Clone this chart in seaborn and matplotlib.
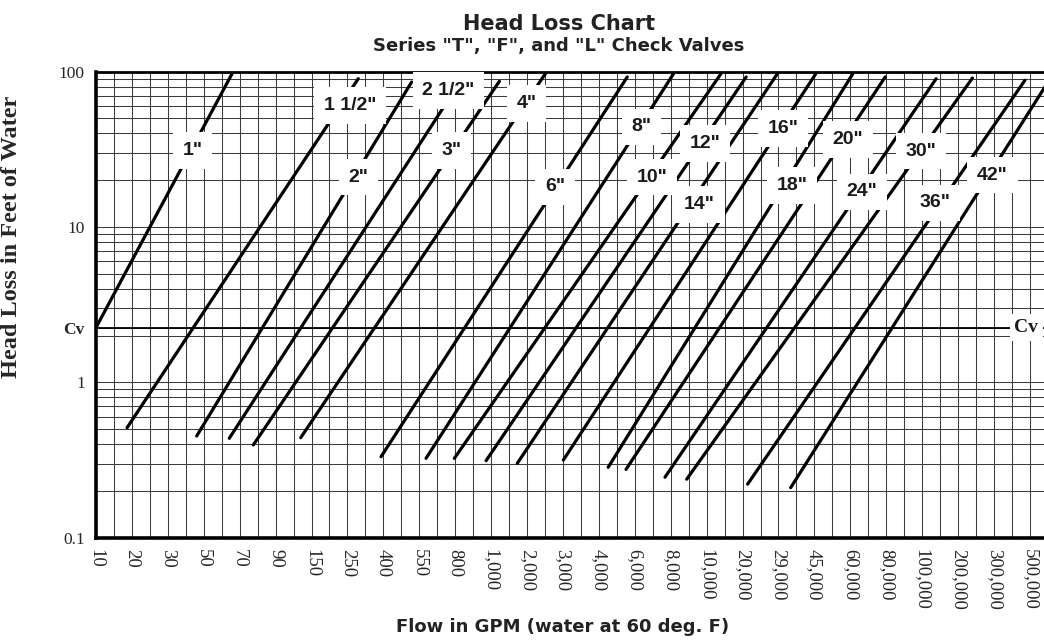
import numpy as np
import pandas as pd
import matplotlib
matplotlib.use("Agg")
import matplotlib.pyplot as plt
from matplotlib.ticker import FixedLocator, NullFormatter
import seaborn as sns

# Flow axis tick values (GPM) - evenly spaced on the chart
flow_ticks = [10, 20, 30, 50, 70, 90, 150, 250, 400, 550, 800, 1000, 2000,
              3000, 4000, 6000, 8000, 10000, 20000, 29000, 45000, 60000,
              80000, 100000, 200000, 300000, 500000]

# Valve sizes and the end points of each head-loss line
valve_sizes = ['1"', '1 1/2"', '2"', '2 1/2"', '3"', '4"', '6"', '8"', '10"',
               '12"', '14"', '16"', '18"', '20"', '24"', '30"', '36"', '42"']
flow_low = [10, 18.2, 45.2, 63.5, 77, 128.6, 388, 590, 793, 969, 1657, 3009,
            4445, 5432, 7640, 8835, 21070, 33670]
head_low = [2.25, 0.510, 0.451, 0.436, 0.395, 0.440, 0.332, 0.324, 0.324,
            0.313, 0.301, 0.316, 0.284, 0.275, 0.245, 0.238, 0.221, 0.210]
flow_high = [65.9, 288, 514, 859, 1173, 2500, 5510, 8216, 13195, 20758,
             28680, 45520, 61220, 79310, 131000, 235240, 465480, 711300]
head_high = [100, 89.9, 85.6, 100, 86.5, 100, 92.2, 100, 96.8, 92.2, 96.8,
             96.8, 96.8, 92.2, 89.9, 90.8, 87.8, 100]

# Head loss at 1 psi (the Cv reference line)
cv_head = 2.25

# Label anchors: (position along the flow axis in tick steps, head in ft)
label_pos = [(2.69, 31.1), (7.07, 60.6), (7.30, 20.9), (9.81, 75.7),
             (9.90, 31.1), (11.99, 62.1), (12.78, 18.1), (15.19, 44.0),
             (15.47, 20.9), (16.95, 34.3), (16.80, 13.9), (19.13, 42.9),
             (19.37, 18.5), (20.94, 36.4), (21.32, 16.8), (22.97, 30.7),
             (23.36, 14.3), (24.96, 21.5)]

# ---- piecewise-logarithmic flow scale: each tick is one equal step ----
log_t = np.log10(np.asarray(flow_ticks, dtype=float))
steps = np.arange(len(flow_ticks), dtype=float)
d0 = log_t[1] - log_t[0]
d1 = log_t[-1] - log_t[-2]


def flow_to_pos(x):
    lx = np.log10(np.clip(np.asarray(x, dtype=float), 1e-9, None))
    out = np.interp(lx, log_t, steps)
    out = np.where(lx < log_t[0], (lx - log_t[0]) / d0, out)
    out = np.where(lx > log_t[-1], steps[-1] + (lx - log_t[-1]) / d1, out)
    return out


def pos_to_flow(p):
    p = np.asarray(p, dtype=float)
    lx = np.interp(p, steps, log_t)
    lx = np.where(p < 0, log_t[0] + p * d0, lx)
    lx = np.where(p > steps[-1], log_t[-1] + (p - steps[-1]) * d1, lx)
    return 10 ** lx


df = pd.DataFrame({
    "valve": np.repeat(valve_sizes, 2),
    "flow": np.ravel(np.column_stack([flow_low, flow_high])),
    "head": np.ravel(np.column_stack([head_low, head_high])),
})

sns.set_style("white")
serif = ["Liberation Serif", "DejaVu Serif"]
sans = ["Liberation Sans", "DejaVu Sans"]
title_font = ["DejaVu Sans"]

W, H = 1044, 640
fig = plt.figure(figsize=(W / 100, H / 100), dpi=100)
left_px, right_px, top_px, bot_px = 96, 1052, 71.5, 537.7
ax = fig.add_axes([left_px / W, 1 - bot_px / H,
                   (right_px - left_px) / W, (bot_px - top_px) / H])

sns.lineplot(data=df, x="flow", y="head", units="valve", estimator=None,
             sort=False, color="black", linewidth=2.3, legend=False, ax=ax,
             zorder=3)

ax.set_xscale("function", functions=(flow_to_pos, pos_to_flow))
ax.set_yscale("log")
x_right = float(pos_to_flow((right_px - left_px) / 35.92))
ax.set_xlim(flow_ticks[0], x_right)
ax.set_ylim(0.1, 100)

# x ticks: labelled steps plus a minor line halfway between them
ax.xaxis.set_major_locator(FixedLocator(flow_ticks))
ax.xaxis.set_minor_locator(FixedLocator(pos_to_flow(steps + 0.5)))
ax.xaxis.set_minor_formatter(NullFormatter())
ax.set_xticklabels([f"{v:,}" for v in flow_ticks], rotation=-90,
                   ha="center", va="top", family=serif, fontsize=13.5)

# y ticks: decades plus the Cv line
y_major = [0.1, 1, cv_head, 10, 100]
ax.yaxis.set_major_locator(FixedLocator(y_major))
ax.yaxis.set_minor_locator(FixedLocator(
    [m * 10.0 ** e for e in (-1, 0, 1) for m in range(2, 10)]))
ax.yaxis.set_minor_formatter(NullFormatter())
ax.set_yticklabels(["0.1", "1", "Cv", "10", "100"], family=serif,
                   fontsize=12.5)
for lab in ax.get_yticklabels():
    if lab.get_text() == "Cv":
        lab.set_fontweight("bold")

ax.tick_params(axis="x", which="both", direction="out", length=5, width=1,
               color="black", pad=3)
ax.tick_params(axis="y", which="major", direction="out", length=6, width=1,
               color="black", pad=2)
ax.tick_params(axis="y", which="minor", length=0)

ax.grid(which="both", axis="both", color="#3c3c3c", linewidth=0.75, zorder=1)
ax.set_axisbelow(True)
ax.axhline(cv_head, color="black", linewidth=1.3, zorder=2)

for side, lw in (("left", 2.6), ("bottom", 2.6), ("top", 2.0), ("right", 2.0)):
    ax.spines[side].set_visible(True)
    ax.spines[side].set_linewidth(lw)
    ax.spines[side].set_color("black")
    ax.spines[side].set_zorder(5)

# Valve size labels in white boxes on their lines
for name, (p, h) in zip(valve_sizes, label_pos):
    ax.text(float(pos_to_flow(p)), h, name, ha="center", va="center",
            family=sans, fontweight="bold", fontsize=14, color="#1a1a1a",
            zorder=6,
            bbox=dict(boxstyle="square,pad=0.5", fc="white", ec="none"))

ax.text(float(pos_to_flow(25.90)), cv_head, "Cv", ha="center", va="center",
        family=serif, fontweight="bold", fontsize=14, color="#1a1a1a",
        zorder=6, bbox=dict(boxstyle="square,pad=0.25", fc="white", ec="none"))

ax.set_xlabel("")
ax.set_ylabel("Head Loss in Feet of Water", family=serif, fontweight="bold",
              fontsize=17.5)
ax.yaxis.set_label_coords((22 - left_px) / (right_px - left_px),
                          (bot_px - 237) / (bot_px - top_px))

fig.text(559 / W, 1 - 30 / H, "Head Loss Chart", ha="center", va="baseline",
         family=title_font, fontweight="bold", fontsize=15, color="#222222")
fig.text(559 / W, 1 - 51 / H, 'Series "T", "F", and "L" Check Valves',
         ha="center", va="baseline", family=title_font, fontweight="bold",
         fontsize=13, color="#222222")
fig.text(563 / W, 1 - 632 / H, "Flow in GPM (water at 60 deg. F)",
         ha="center", va="baseline", family=title_font, fontweight="bold",
         fontsize=13, color="#222222")

fig.savefig("out.png", dpi=100)
